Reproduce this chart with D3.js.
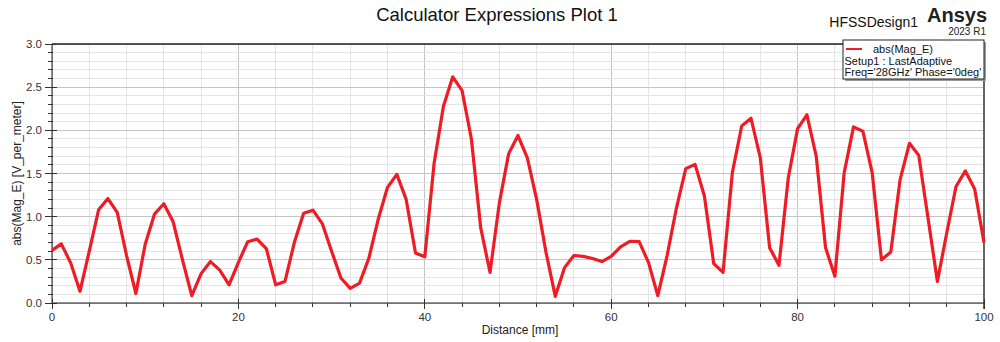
<!DOCTYPE html>
<html>
<head>
<meta charset="utf-8">
<script src="https://cdn.jsdelivr.net/npm/d3@7"></script>
<style>
  html, body { margin: 0; padding: 0; background: #fff; }
  svg { display: block; font-family: "Liberation Sans", Arial, sans-serif; }
</style>
</head>
<body>
<svg id="chart" width="1000" height="342"></svg>
<script>
// Field magnitude sampled every 1 mm along the line
const distance = d3.range(0, 101, 1);
const magE = [
  0.61, 0.685, 0.465, 0.135, 0.60, 1.08, 1.21, 1.05, 0.55, 0.11,
  0.68, 1.03, 1.15, 0.94, 0.50, 0.085, 0.34, 0.48, 0.38, 0.21,
  0.47, 0.71, 0.74, 0.63, 0.21, 0.25, 0.70, 1.04, 1.075, 0.92,
  0.60, 0.29, 0.17, 0.23, 0.52, 0.97, 1.34, 1.49, 1.20, 0.58,
  0.535, 1.62, 2.28, 2.62, 2.46, 1.90, 0.87, 0.355, 1.16, 1.73,
  1.94, 1.68, 1.20, 0.59, 0.077, 0.41, 0.55, 0.54, 0.515, 0.48,
  0.54, 0.65, 0.715, 0.71, 0.47, 0.085, 0.55, 1.10, 1.556, 1.606,
  1.24, 0.456, 0.355, 1.51, 2.05, 2.14, 1.68, 0.64, 0.437, 1.45,
  2.02, 2.18, 1.70, 0.64, 0.31, 1.51, 2.04, 1.99, 1.51, 0.50,
  0.59, 1.43, 1.85, 1.71, 0.98, 0.25, 0.81, 1.35, 1.53, 1.32,
  0.70
];
const xTickLabels = [0, 20, 40, 60, 80, 100];
const yTickLabels = [0.0, 0.5, 1.0, 1.5, 2.0, 2.5, 3.0];
const legendLines = ["abs(Mag_E)", "Setup1 : LastAdaptive", "Freq='28GHz' Phase='0deg'"];

const svg = d3.select("#chart");
const plot = { left: 52, right: 984, top: 44, bottom: 303 };

const x = d3.scaleLinear().domain([0, 100]).range([plot.left, plot.right]);
const y = d3.scaleLinear().domain([0, 3]).range([plot.bottom, plot.top]);

// Grid: vertical every 4 mm, horizontal every 0.1
const grid = svg.append("g");
d3.range(0, 101, 4).forEach(v => {
  grid.append("line")
    .attr("x1", x(v)).attr("x2", x(v))
    .attr("y1", plot.top).attr("y2", plot.bottom)
    .attr("stroke", v % 20 === 0 ? "#c4c4c4" : "#e4e4e4")
    .attr("stroke-width", 1).attr("shape-rendering", "crispEdges");
});
d3.range(0, 31, 1).forEach(i => {
  const v = i / 10;
  grid.append("line")
    .attr("x1", plot.left).attr("x2", plot.right)
    .attr("y1", y(v)).attr("y2", y(v))
    .attr("stroke", i % 5 === 0 ? "#c4c4c4" : "#e4e4e4")
    .attr("stroke-width", 1).attr("shape-rendering", "crispEdges");
});

// Frame
svg.append("line").attr("x1", plot.left).attr("x2", plot.right)
  .attr("y1", plot.top).attr("y2", plot.top)
  .attr("stroke", "#222").attr("stroke-width", 1.5);
svg.append("line").attr("x1", plot.right).attr("x2", plot.right)
  .attr("y1", plot.top).attr("y2", plot.bottom + 6)
  .attr("stroke", "#666").attr("stroke-width", 2);

// Y axis
const yAxis = svg.append("g").attr("transform", `translate(${plot.left},0)`);
yAxis.append("line").attr("x1", 0).attr("x2", 0)
  .attr("y1", plot.top).attr("y2", plot.bottom).attr("stroke", "#222");
d3.range(0, 31, 1).forEach(i => {
  const major = i % 5 === 0;
  yAxis.append("line")
    .attr("x1", major ? -7 : -4).attr("x2", major ? 5 : 1)
    .attr("y1", y(i / 10)).attr("y2", y(i / 10))
    .attr("stroke", "#333").attr("shape-rendering", "crispEdges");
});
yAxis.selectAll("text.ytl").data(yTickLabels).join("text")
  .attr("class", "ytl")
  .attr("x", -10).attr("y", d => y(d)).attr("dy", "0.35em")
  .attr("text-anchor", "end").attr("font-size", 11.5).attr("fill", "#333")
  .text(d => d3.format(".1f")(d));

// X axis
const xAxis = svg.append("g").attr("transform", `translate(0,${plot.bottom})`);
xAxis.append("line").attr("x1", plot.left).attr("x2", plot.right)
  .attr("y1", 0).attr("y2", 0).attr("stroke", "#222");
d3.range(0, 101, 4).forEach(v => {
  const major = v % 20 === 0;
  xAxis.append("line")
    .attr("x1", x(v)).attr("x2", x(v))
    .attr("y1", major ? -4 : 0).attr("y2", major ? 6 : 4)
    .attr("stroke", "#333").attr("shape-rendering", "crispEdges");
});
xAxis.selectAll("text.xtl").data(xTickLabels).join("text")
  .attr("class", "xtl")
  .attr("x", d => x(d)).attr("y", 18)
  .attr("text-anchor", "middle").attr("font-size", 11.5).attr("fill", "#333")
  .text(d => d);

// Axis titles
svg.append("text").attr("x", (plot.left + plot.right) / 2 + 2).attr("y", 334)
  .attr("text-anchor", "middle").attr("font-size", 12).attr("fill", "#222")
  .text("Distance [mm]");
svg.append("text")
  .attr("transform", `translate(21,${(plot.top + plot.bottom) / 2}) rotate(-90)`)
  .attr("text-anchor", "middle").attr("font-size", 12).attr("fill", "#222")
  .text("abs(Mag_E) [V_per_meter]");

// Titles
svg.append("text").attr("x", 497).attr("y", 21)
  .attr("text-anchor", "middle").attr("font-size", 18.5).attr("fill", "#111")
  .text("Calculator Expressions Plot 1");
svg.append("text").attr("x", 918).attr("y", 27)
  .attr("text-anchor", "end").attr("font-size", 14).attr("fill", "#111")
  .text("HFSSDesign1");
svg.append("text").attr("x", 987).attr("y", 22)
  .attr("text-anchor", "end").attr("font-size", 20).attr("font-weight", "bold").attr("fill", "#222")
  .text("Ansys");
svg.append("text").attr("x", 986).attr("y", 35)
  .attr("text-anchor", "end").attr("font-size", 10).attr("fill", "#222")
  .text("2023 R1");

// Curve
svg.append("path")
  .datum(distance.map((d, i) => [d, magE[i]]))
  .attr("fill", "none").attr("stroke", "#ee1c25").attr("stroke-width", 3.2)
  .attr("stroke-linejoin", "round")
  .attr("d", d3.line().x(d => x(d[0])).y(d => y(d[1])));

// Legend
const lg = svg.append("g").attr("transform", "translate(843,40)");
lg.append("rect").attr("x", 2).attr("y", 2).attr("width", 141).attr("height", 39).attr("fill", "#9a9a9a");
lg.append("rect").attr("x", 0).attr("y", 0).attr("width", 141).attr("height", 39)
  .attr("fill", "#fff").attr("stroke", "#222").attr("stroke-width", 1);
lg.append("line").attr("x1", 3).attr("x2", 19).attr("y1", 9).attr("y2", 9)
  .attr("stroke", "#ee1c25").attr("stroke-width", 2);
lg.selectAll("text").data(legendLines).join("text")
  .attr("x", (d, i) => i === 0 ? 30 : 1.5)
  .attr("y", (d, i) => [13, 24.5, 35.5][i])
  .attr("font-size", 11).attr("fill", "#111")
  .text(d => d);
</script>
</body>
</html>
